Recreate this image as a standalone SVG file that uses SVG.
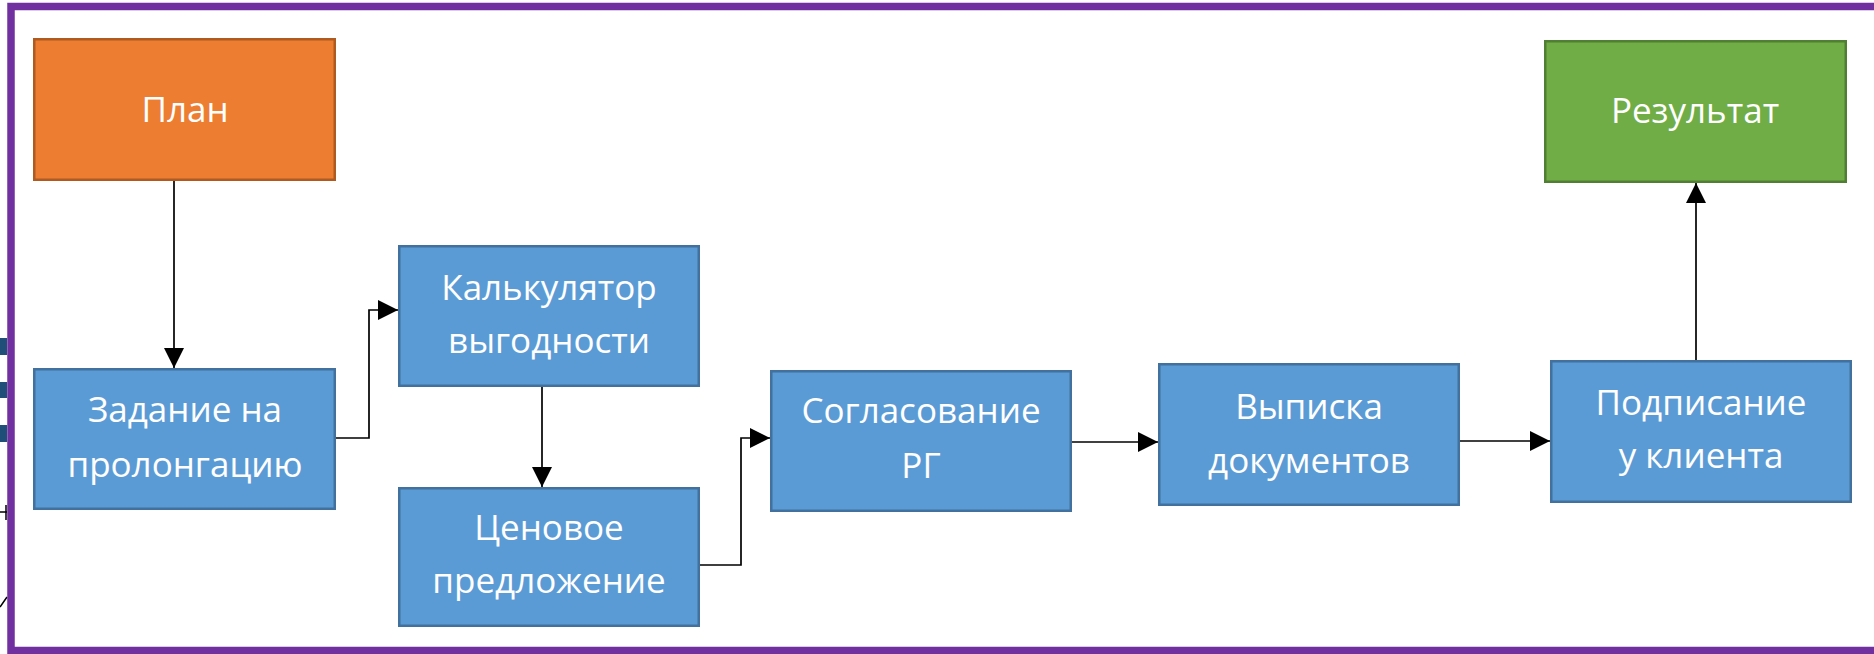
<svg xmlns="http://www.w3.org/2000/svg" width="1874" height="654" viewBox="0 0 1874 654">
<style>
.blue{fill:#5b9bd5;stroke:#41719c;stroke-width:2.5}
.orange{fill:#ed7d31;stroke:#ae5a21;stroke-width:2.5}
.green{fill:#70ad47;stroke:#507e32;stroke-width:2.5}
.lbl{font-family:"Open Sans","Noto Sans","DejaVu Sans",sans-serif;font-size:35px;fill:#ffffff;text-anchor:middle}
.con{fill:none;stroke:#000000;stroke-width:1.7}
</style>
<defs>
<marker id="arr" viewBox="0 0 20 20" refX="20" refY="10" markerWidth="20" markerHeight="20" markerUnits="userSpaceOnUse" orient="auto">
<path d="M0,0 L20,10 L0,20 z" fill="#000000"/>
</marker>
</defs>
<rect x="0" y="0" width="1874" height="654" fill="#ffffff"/>
<g id="outside">
<rect x="0" y="338" width="7" height="17" fill="#1f4e79"/>
<rect x="0" y="382" width="7" height="16" fill="#1f4e79"/>
<rect x="0" y="425" width="7" height="17" fill="#1f4e79"/>
<path d="M0,512 H7 M6,505 V520 M0,607 L7,597" fill="none" stroke="#000000" stroke-width="1.5"/>
</g>
<g id="frame">
<path d="M1874,6.5 H11 V650.5 H1874" fill="none" stroke="#7030a0" stroke-width="7.5"/>
</g>
<g id="connectors">
<path class="con" d="M174,181 V368" marker-end="url(#arr)"/>
<path class="con" d="M336,438 H369 V310 H398" marker-end="url(#arr)"/>
<path class="con" d="M542,387 V487" marker-end="url(#arr)"/>
<path class="con" d="M700,565 H741 V438 H770" marker-end="url(#arr)"/>
<path class="con" d="M1072,442 H1158" marker-end="url(#arr)"/>
<path class="con" d="M1460,441 H1550" marker-end="url(#arr)"/>
<path class="con" d="M1696,360 V183" marker-end="url(#arr)"/>
</g>
<g id="plan">
<rect class="orange" x="34.25" y="39.25" width="300.5" height="140.5"/>
<text class="lbl" x="185" y="122">План</text>
</g>
<g id="zadanie">
<rect class="blue" x="34.25" y="369.25" width="300.5" height="139.5"/>
<text class="lbl" x="185" y="422">Задание на</text>
<text class="lbl" x="185" y="477">пролонгацию</text>
</g>
<g id="kalkulyator">
<rect class="blue" x="399.25" y="246.25" width="299.5" height="139.5"/>
<text class="lbl" x="549" y="300">Калькулятор</text>
<text class="lbl" x="549" y="353">выгодности</text>
</g>
<g id="cenovoe">
<rect class="blue" x="399.25" y="488.25" width="299.5" height="137.5"/>
<text class="lbl" x="549" y="540">Ценовое</text>
<text class="lbl" x="549" y="593">предложение</text>
</g>
<g id="soglasovanie">
<rect class="blue" x="771.25" y="371.25" width="299.5" height="139.5"/>
<text class="lbl" x="921" y="423">Согласование</text>
<text class="lbl" x="921" y="478">РГ</text>
</g>
<g id="vypiska">
<rect class="blue" x="1159.25" y="364.25" width="299.5" height="140.5"/>
<text class="lbl" x="1309" y="419">Выписка</text>
<text class="lbl" x="1309" y="473">документов</text>
</g>
<g id="podpisanie">
<rect class="blue" x="1551.25" y="361.25" width="299.5" height="140.5"/>
<text class="lbl" x="1701" y="415">Подписание</text>
<text class="lbl" x="1701" y="468">у клиента</text>
</g>
<g id="rezultat">
<rect class="green" x="1545.25" y="41.25" width="300.5" height="140.5"/>
<text class="lbl" x="1695" y="123">Результат</text>
</g>
</svg>
